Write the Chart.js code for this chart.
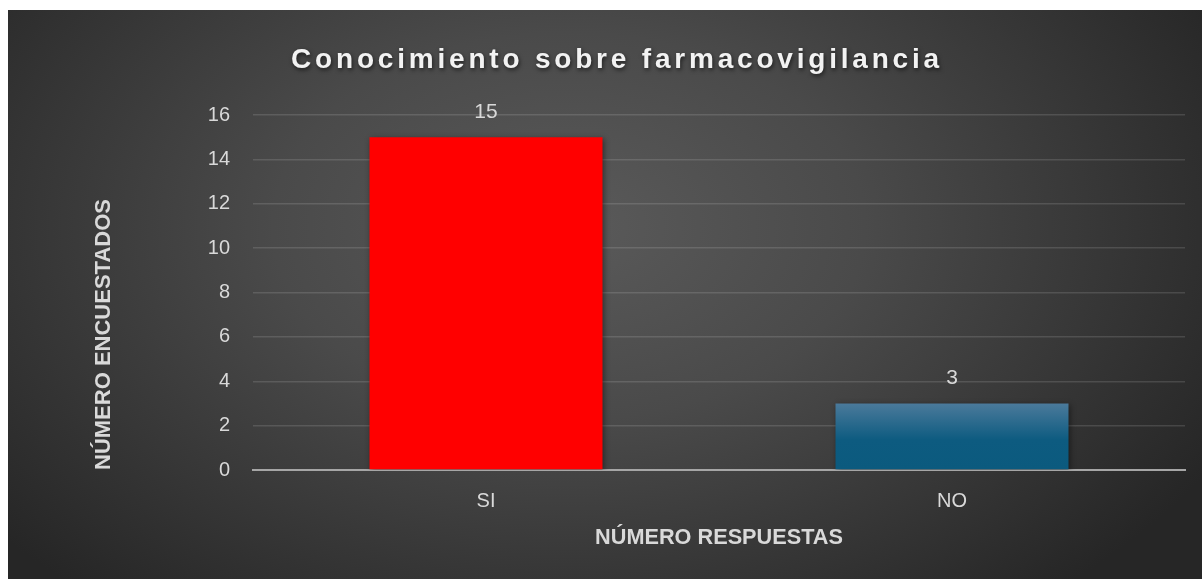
<!DOCTYPE html>
<html>
<head>
<meta charset="utf-8">
<script src="https://cdn.jsdelivr.net/npm/chart.js@4.4.1/dist/chart.umd.min.js"></script>
<style>
  html, body { margin: 0; padding: 0; background: #ffffff; }
  #wrap {
    position: absolute; left: 8px; top: 10px; width: 1194px; height: 569px;
    background: radial-gradient(ellipse 62% 85% at 47% 38%, #5a5a5a 0%, #4a4a4a 40%, #262626 100%);
  }
  canvas { display: block; }
</style>
</head>
<body>
<div id="wrap"><canvas id="c" width="1194" height="569"></canvas></div>
<script>
const chartTitle = 'Conocimiento sobre farmacovigilancia';
const categories = ['SI', 'NO'];
const values = [15, 3];
const yTicksMax = 16;
const yTicksStep = 2;
const xAxisTitle = 'NÚMERO RESPUESTAS';
const yAxisTitle = 'NÚMERO ENCUESTADOS';

const textColor = '#d9d9d9';
const fontFamily = '"Liberation Sans", Arial, sans-serif';

const titlePlugin = {
  id: 'spacedTitle',
  afterDraw(chart) {
    const ctx = chart.ctx;
    ctx.save();
    ctx.font = 'bold 28px ' + fontFamily;
    ctx.letterSpacing = '3.8px';
    ctx.fillStyle = '#f2f2f2';
    ctx.textAlign = 'center';
    ctx.textBaseline = 'middle';
    ctx.shadowColor = 'rgba(0,0,0,0.6)';
    ctx.shadowBlur = 4;
    ctx.shadowOffsetX = 1;
    ctx.shadowOffsetY = 2;
    ctx.fillText(chartTitle, 609, 50);
    ctx.restore();
  }
};

const labelPlugin = {
  id: 'valueLabels',
  afterDatasetsDraw(chart) {
    const ctx = chart.ctx;
    const meta = chart.getDatasetMeta(0);
    ctx.save();
    ctx.font = '21px ' + fontFamily;
    ctx.fillStyle = textColor;
    ctx.textAlign = 'center';
    ctx.textBaseline = 'middle';
    meta.data.forEach((bar, i) => {
      ctx.fillText(String(values[i]), bar.x, bar.y - 25);
    });
    ctx.restore();
  }
};

const shadowPlugin = {
  id: 'barShadow',
  beforeDatasetsDraw(chart) {
    const ctx = chart.ctx;
    ctx.save();
    ctx.shadowColor = 'rgba(0,0,0,0.45)';
    ctx.shadowBlur = 6;
    ctx.shadowOffsetX = 1;
    ctx.shadowOffsetY = 2;
  },
  afterDatasetsDraw(chart) {
    chart.ctx.restore();
  }
};

function barColor(context) {
  const chart = context.chart;
  if (context.dataIndex === 0) return '#ff0000';
  if (!chart.chartArea) return '#0b5a80';
  const y = chart.scales.y;
  const top = y.getPixelForValue(values[context.dataIndex]);
  const base = y.getPixelForValue(0);
  const g = chart.ctx.createLinearGradient(0, top, 0, base);
  g.addColorStop(0, '#4b7a9b');
  g.addColorStop(0.55, '#0d5b80');
  g.addColorStop(1, '#0b5a7e');
  return g;
}

new Chart(document.getElementById('c'), {
  type: 'bar',
  data: {
    labels: categories,
    datasets: [{
      data: values,
      backgroundColor: barColor,
      borderWidth: 0,
      barPercentage: 0.5,
      categoryPercentage: 1.0
    }]
  },
  options: {
    responsive: false,
    animation: false,
    layout: { padding: { left: 79, right: 17, top: 105, bottom: 24 } },
    plugins: {
      legend: { display: false },
      tooltip: { enabled: false },
      title: { display: false }
    },
    scales: {
      x: {
        grid: { display: false, drawTicks: false },
        border: { display: true, color: '#a6a6a6', width: 2 },
        ticks: { color: textColor, font: { family: fontFamily, size: 20 }, padding: 19 },
        title: {
          display: true, text: xAxisTitle, color: textColor,
          font: { family: fontFamily, size: 21.7, weight: 'bold' },
          padding: { top: 14, bottom: 4 }
        },
        afterFit(scale) { scale.height = 85; }
      },
      y: {
        min: 0, max: yTicksMax,
        grid: { color: 'rgba(255,255,255,0.13)', lineWidth: 1.5, drawTicks: false },
        border: { display: false },
        ticks: { stepSize: yTicksStep, color: textColor, font: { family: fontFamily, size: 20 }, padding: 23 },
        title: {
          display: true, text: yAxisTitle, color: textColor, align: 'start',
          font: { family: fontFamily, size: 22, weight: 'bold' },
          padding: { top: 4, bottom: 4 }
        },
        afterFit(scale) { scale.width = 166; }
      }
    }
  },
  plugins: [shadowPlugin, labelPlugin, titlePlugin]
});
</script>
</body>
</html>
